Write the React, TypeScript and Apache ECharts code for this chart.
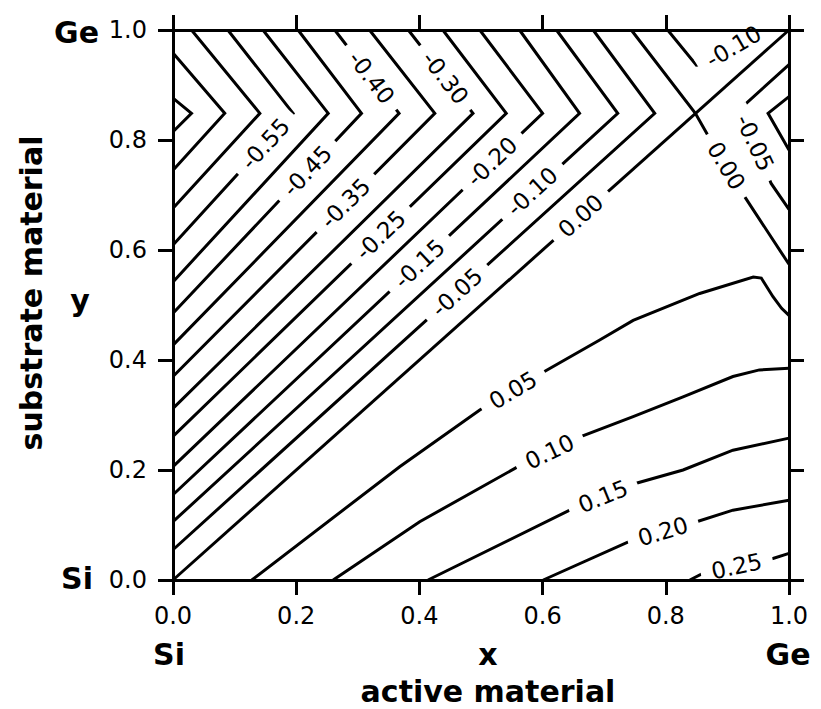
import React, { useEffect, useRef } from "react";
import * as echarts from "echarts";

type Pt = [number, number];

const FONT = '"DejaVu Sans", "Liberation Sans", sans-serif';

// Tensile side (y > x): each contour runs from the top / left edge down to the kink
// at the substrate crossover (y ≈ 0.85) and back to the left edge.
const chevronLevels = [-0.7, -0.65, -0.6, -0.55, -0.5, -0.45, -0.4, -0.35, -0.3, -0.25, -0.2, -0.15, -0.1, -0.05];
const chevronLines: Pt[][] = [
  [[0, 0.876], [0.03, 0.8485], [0, 0.815]],
  [[0, 0.958], [0.084, 0.8485], [0, 0.745]],
  [[0.03, 1], [0.141, 0.8485], [0, 0.676]],
  [[0.089, 1], [0.195, 0.8485], [0, 0.609]],
  [[0.146, 1], [0.252, 0.8485], [0, 0.542]],
  [[0.203, 1], [0.306, 0.8485], [0, 0.485]],
  [[0.2625, 1], [0.367, 0.8485], [0, 0.427]],
  [[0.319, 1], [0.425, 0.8485], [0, 0.37]],
  [[0.382, 1], [0.487, 0.8485], [0, 0.312]],
  [[0.438, 1], [0.541, 0.8485], [0, 0.261]],
  [[0.498, 1], [0.6, 0.8485], [0, 0.206]],
  [[0.5625, 1], [0.66, 0.8485], [0, 0.155]],
  [[0.6225, 1], [0.722, 0.8485], [0, 0.106]],
  [[0.682, 1], [0.782, 0.8485], [0, 0.055]],
];

// Zero offset: the x = y diagonal and the branch crossing it near the Ge-rich corner
const zeroLevels = [0, 0];
const zeroLines: Pt[][] = [
  [[0, 0], [1, 1]],
  [[0.744, 1], [0.848, 0.8485], [0.871, 0.803], [0.928, 0.697], [1, 0.574]],
];

// Ge-rich corner pockets
const cornerLevels = [-0.1, -0.05, -0.1];
const cornerLines: Pt[][] = [
  [[0.803, 1], [0.8497, 0.936], [0.86, 0.937], [0.955, 1]],
  [[1, 0.937], [0.922, 0.858], [0.971, 0.721], [1, 0.674]],
  [[1, 0.879], [0.966, 0.8485], [1, 0.782]],
];

// Compressive side (y < x)
const positiveLevels = [0.05, 0.1, 0.15, 0.2, 0.25];
const positiveLines: Pt[][] = [
  [[0.128, 0], [0.368, 0.206], [0.498, 0.309], [0.598, 0.376], [0.692, 0.436], [0.747, 0.472], [0.855, 0.521], [0.942, 0.551], [0.955, 0.549], [0.974, 0.515], [0.988, 0.494], [1, 0.481]],
  [[0.26, 0], [0.4005, 0.106], [0.56, 0.206], [0.663, 0.261], [0.747, 0.297], [0.828, 0.333], [0.909, 0.37], [0.952, 0.382], [1, 0.385]],
  [[0.414, 0], [0.644, 0.127], [0.752, 0.176], [0.828, 0.2], [0.909, 0.236], [1, 0.258]],
  [[0.601, 0], [0.741, 0.07], [0.85, 0.106], [0.909, 0.127], [1, 0.145]],
  [[0.839, 0], [0.86, 0.012], [0.974, 0.039], [1, 0.0485]],
];

// Inline contour labels: level, anchor on its line, text angle (degrees, counter-clockwise)
const labelLevels = [-0.55, -0.45, -0.35, -0.25, -0.15, -0.05, -0.4, -0.3, -0.2, -0.1, 0, -0.1, -0.05, 0, 0.05, 0.1, 0.15, 0.2, 0.25];
const labelPoints: Pt[] = [
  [0.15, 0.793], [0.218, 0.744], [0.28, 0.685], [0.337, 0.627], [0.4, 0.575], [0.461, 0.523],
  [0.322, 0.9137], [0.442, 0.9134],
  [0.518, 0.7607], [0.583, 0.7064], [0.662, 0.662],
  [0.91, 0.97], [0.9445, 0.795], [0.898, 0.753],
  [0.552, 0.345], [0.6115, 0.233], [0.698, 0.152], [0.7955, 0.088], [0.915, 0.025],
];
const labelAngles = [47.6, 46.7, 45.1, 44.1, 43.2, 42.2, -52.6, -52.5, 43.7, 42.6, 41.8, 30.6, -65, -59, 30.9, 25.5, 22, 16.7, 12];

const axisTicks = [0, 0.2, 0.4, 0.6, 0.8, 1.0];

const lineSeries = (levels: number[], lines: Pt[][]) =>
  lines.map((pts, i) => ({
    type: "line" as const,
    name: levels[i].toFixed(2),
    data: pts,
    symbol: "none",
    showSymbol: false,
    silent: true,
    z: 2,
    lineStyle: { color: "#000", width: 3, join: "miter" as const, cap: "butt" as const },
  }));

const axisStyle = (position: string, showLabel: boolean, isX: boolean) => ({
  type: "value" as const,
  position,
  min: axisTicks[0],
  max: axisTicks[axisTicks.length - 1],
  interval: axisTicks[1] - axisTicks[0],
  z: 20,
  axisLine: { show: true, onZero: false, lineStyle: { color: "#000", width: 3 } },
  axisTick: { show: true, inside: false, length: 15, lineStyle: { color: "#000", width: 3 } },
  splitLine: { show: false },
  axisLabel: {
    show: showLabel,
    margin: isX ? 24 : 26,
    color: "#000",
    fontSize: 24,
    fontFamily: FONT,
    formatter: (v: number) => v.toFixed(1),
  },
});

const boldText = (text: string, x: number, y: number, align: string, rotation = 0) => ({
  type: "text" as const,
  x,
  y,
  rotation,
  silent: true,
  style: {
    text,
    fill: "#000",
    font: `bold 30px ${FONT}`,
    textAlign: align,
    textVerticalAlign: "middle",
    align,
    verticalAlign: "middle",
  },
});

export default function App() {
  const ref = useRef<HTMLDivElement>(null);

  useEffect(() => {
    if (!ref.current) return;
    const chart = echarts.init(ref.current, undefined, { renderer: "svg" });

    const option = {
      animation: false,
      backgroundColor: "#fff",
      grid: { left: 173, right: 32, top: 30, bottom: 129, containLabel: false },
      xAxis: [axisStyle("bottom", true, true), axisStyle("top", false, true)],
      yAxis: [axisStyle("left", true, false), axisStyle("right", false, false)],
      series: [
        ...lineSeries(chevronLevels, chevronLines),
        ...lineSeries(zeroLevels, zeroLines),
        ...lineSeries(cornerLevels, cornerLines),
        ...lineSeries(positiveLevels, positiveLines),
        {
          type: "scatter",
          z: 10,
          silent: true,
          symbol: "circle",
          symbolSize: 0,
          itemStyle: { color: "#fff", opacity: 1 },
          data: labelPoints.map((p, i) => ({
            value: p,
            name: labelLevels[i].toFixed(2),
            label: { rotate: labelAngles[i] },
          })),
          label: {
            show: true,
            position: "inside",
            formatter: "{b}",
            color: "#000",
            opacity: 1,
            fontSize: 23,
            fontFamily: FONT,
            textBorderWidth: 0,
            textBorderColor: "transparent",
            backgroundColor: "#fff",
            padding: [0, 11],
            lineHeight: 18,
            align: "center",
            verticalAlign: "middle",
          },
        },
      ],
      graphic: [
        boldText("Ge", 99, 32, "right"),
        boldText("Si", 93, 578, "right"),
        boldText("y", 80, 300, "center"),
        boldText("substrate material", 31, 293, "center", Math.PI / 2),
        boldText("Si", 169, 654, "center"),
        boldText("x", 488, 654, "center"),
        boldText("Ge", 788, 654, "center"),
        boldText("active material", 488, 691, "center"),
      ],
    };

    chart.setOption(option as any);
    return () => chart.dispose();
  }, []);

  return (
    <div
      ref={ref}
      style={{ position: "fixed", left: 0, top: 0, width: 821, height: 709, background: "#fff" }}
    />
  );
}
